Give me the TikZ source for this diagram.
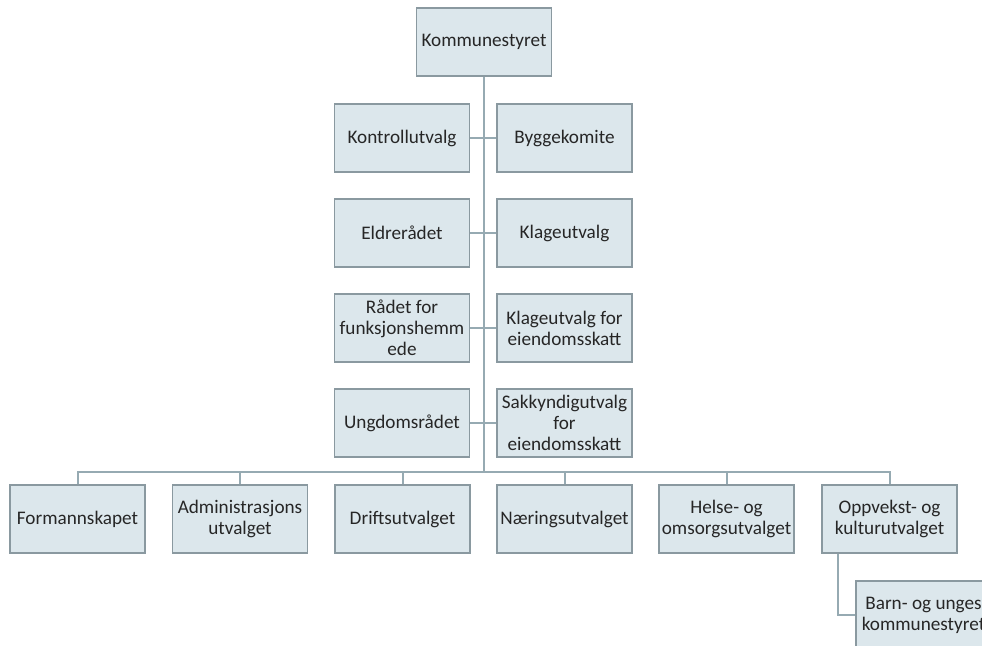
\documentclass[tikz,border=0pt]{standalone}
\usepackage{fontspec}
\setmainfont{Carlito}
\usepackage{xcolor}

\definecolor{boxfill}{RGB}{220,231,236}
\definecolor{boxline}{RGB}{138,153,160}
\definecolor{linkline}{RGB}{150,170,178}

\tikzset{
	unit/.style={draw=boxline, fill=boxfill, line width=0.75pt, minimum width=67.5pt, minimum height=34pt,
		inner sep=0pt, align=center, text=black!85, font=\fontsize{9.6}{10.5}\selectfont},
	link/.style={draw=linkline, line width=1pt}
}

\begin{document}
\begin{tikzpicture}[x=0.5pt,y=-0.5pt]
	\useasboundingbox (0,0) rectangle (982,646);
	\clip (0,0) rectangle (982,646);
	\coordinate (trunk) at (484,472);
	\draw[link] (484,76) -- (trunk);
	\node[unit] (kommunestyret) at (484,42) {Kommunestyret};
	\foreach \y/\l/\lt/\r/\rt in {138/kontroll/Kontrollutvalg/bygg/Byggekomite,
		233/eldre/Eldrerådet/klage/Klageutvalg,
		328/funk/{Rådet for\\funksjonshemm\\ede}/klageeiendom/{Klageutvalg for\\eiendomsskatt},
		423/ungdom/Ungdomsrådet/sakkyndig/{Sakkyndigutvalg\\for\\eiendomsskatt}}
	{
		\node[unit] (\l) at (402,\y) {\lt};
		\node[unit] (\r) at (564.5,\y) {\rt};
		\draw[link] (\l.east) -- (\r.west);
	}
	\foreach \x/\n/\t in {77.5/formannskapet/Formannskapet, 240/admin/{Administrasjons\\utvalget},
		402.5/drift/Driftsutvalget, 564.5/naering/Næringsutvalget,
		726.5/helse/{Helse- og\\omsorgsutvalget}, 889.5/oppvekst/{Oppvekst- og\\kulturutvalget}}
	{
		\node[unit] (\n) at (\x,519) {\t};
		\draw[link] (trunk) -| (\n.north);
	}
	\node[unit] (barn) at (923.5,615) {Barn- og unges\\kommunestyret};
	\draw[link] ([xshift=-26pt]oppvekst.south) |- (barn.west);
\end{tikzpicture}
\end{document}
